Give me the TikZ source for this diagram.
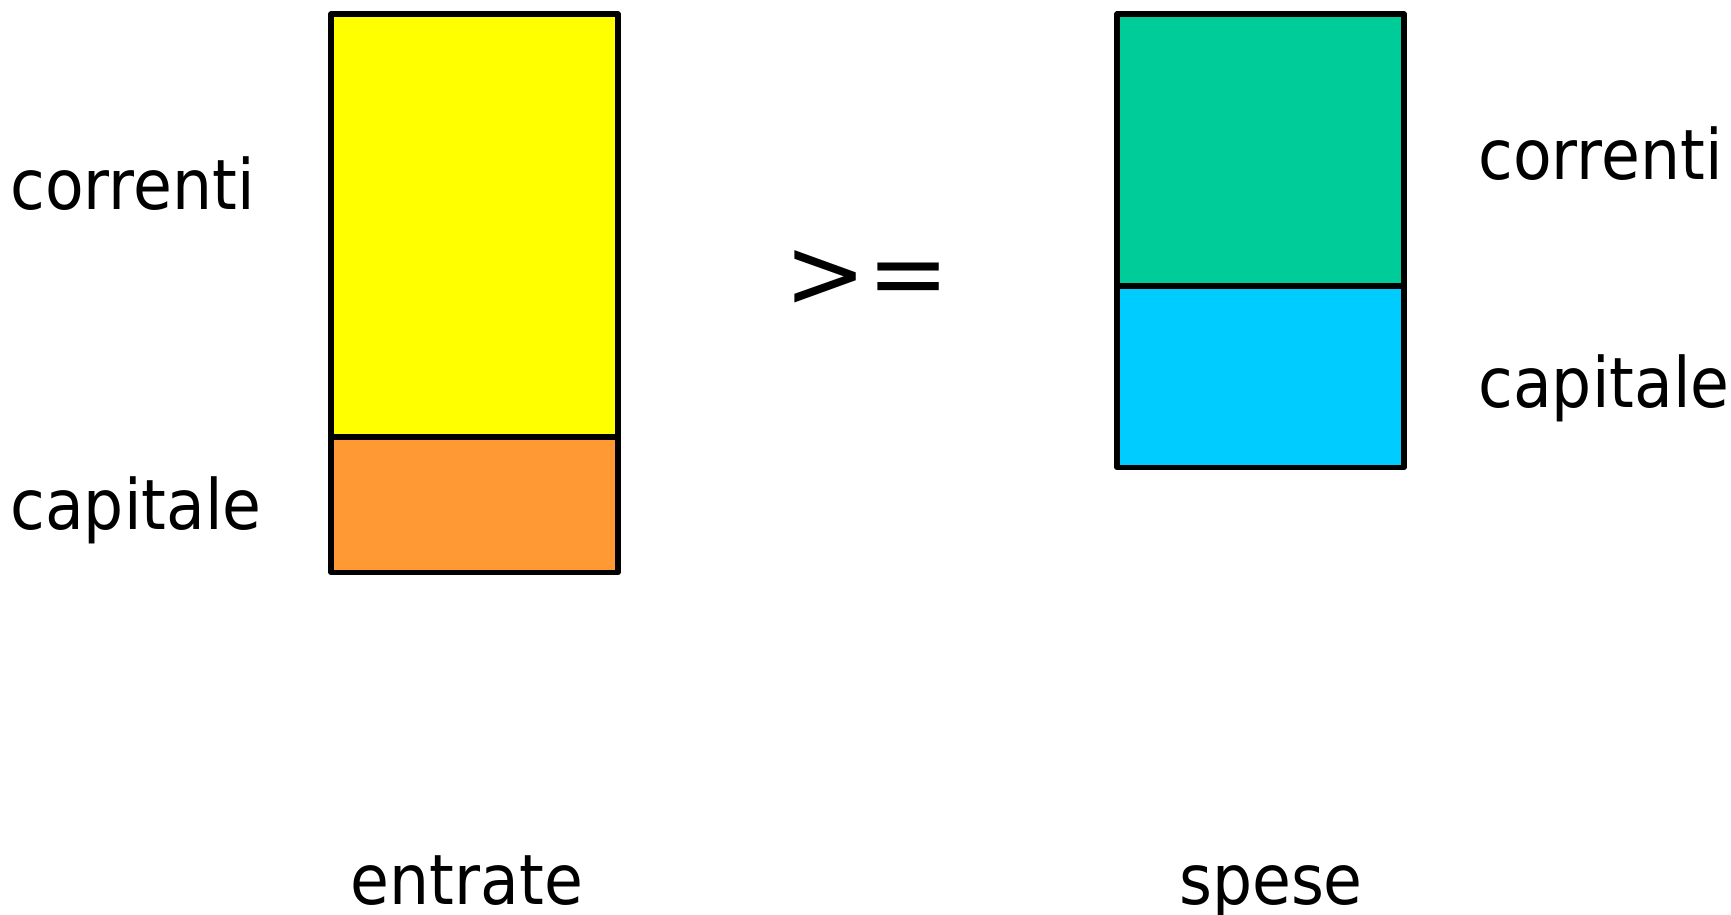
\documentclass[tikz,border=0pt]{standalone}
\usepackage{fontspec}
\setmainfont{DejaVu Sans}
\definecolor{cyel}{HTML}{FFFF00}
\definecolor{corg}{HTML}{FF9933}
\definecolor{cgrn}{HTML}{00CC99}
\definecolor{ccya}{HTML}{00CCFF}
\newcommand{\tallt}[1]{\scalebox{1}[1.1]{#1}}
\tikzset{
  blockbox/.style={draw=black, line width=2.6pt, line join=round},
  lbl/.style={inner sep=0pt, font=\fontsize{31.6pt}{38pt}\selectfont},
}
\begin{document}
\begin{tikzpicture}[x=0.5pt, y=-0.5pt]
\useasboundingbox (0,0) rectangle (1731,915);
\fill[white] (0,0) rectangle (1731,915);
% left bar (entrate)
\path[blockbox, fill=cyel] (331,14) rectangle (618,437);
\path[blockbox, fill=corg] (331,437) rectangle (618,572.5);
% right bar (spese)
\path[blockbox, fill=cgrn] (1117,14) rectangle (1404,286);
\path[blockbox, fill=ccya] (1117,286) rectangle (1404,467.5);
% labels
\node[lbl, anchor=base west] (lc) at (10,210) {\tallt{correnti}};
\node[lbl, anchor=base west] (lk) at (10,529) {\tallt{capitale}};
\node[lbl, anchor=base west] (rc) at (1478,179) {\tallt{correnti}};
\node[lbl, anchor=base west] (rk) at (1478,407) {\tallt{capitale}};
\node[lbl, anchor=base] (en) at (467,904) {\tallt{entrate}};
\node[lbl, anchor=base] (sp) at (1271,904) {\tallt{spese}};
\node[inner sep=0pt, font=\fontsize{49pt}{60pt}\selectfont, anchor=center] (ge) at (867,279) {>=};
\end{tikzpicture}
\end{document}
